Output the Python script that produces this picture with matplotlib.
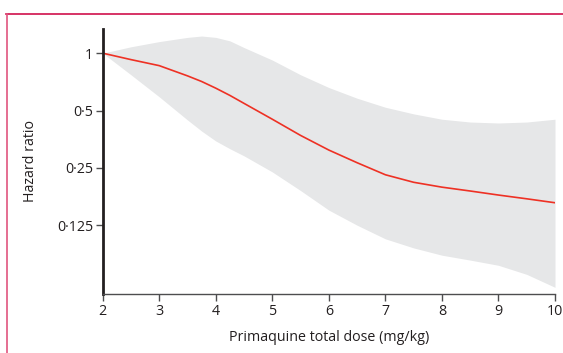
import matplotlib
matplotlib.use('Agg')
import matplotlib.pyplot as plt
from matplotlib.lines import Line2D

plt.rcParams['font.family'] = ['Open Sans', 'DejaVu Sans']

# primaquine total dose (mg/kg)
dose = [2, 2.5, 3, 3.5, 3.75, 4, 4.25, 4.5, 5, 5.5, 6, 6.5, 7, 7.5, 8, 8.5,
        9, 9.5, 10]
# hazard ratio estimate and 95% CI
hr = [1.0, 0.925, 0.86, 0.76, 0.71, 0.655, 0.60, 0.545, 0.45, 0.37, 0.31,
      0.266, 0.23, 0.21, 0.198, 0.189, 0.18, 0.172, 0.164]
hr_upper = [1.0, 1.08, 1.15, 1.21, 1.23, 1.21, 1.16, 1.07, 0.92, 0.77, 0.66,
            0.58, 0.52, 0.48, 0.45, 0.435, 0.43, 0.435, 0.45]
hr_lower = [1.0, 0.77, 0.59, 0.446, 0.39, 0.346, 0.315, 0.289, 0.238, 0.19,
            0.15, 0.125, 0.106, 0.095, 0.087, 0.082, 0.077, 0.069, 0.059]

y_ticks = [1, 0.5, 0.25, 0.125]
y_ticklabels = ['1', '0\u00b75', '0\u00b725', '0\u00b7125']
x_ticks = [2, 3, 4, 5, 6, 7, 8, 9, 10]

fig = plt.figure(figsize=(5.63, 3.53), dpi=100)
ax = fig.add_axes([0.1824, 0.167, 0.8034, 0.751])

ax.fill_between(dose, hr_lower, hr_upper, color='#e6e7e8', linewidth=0)
ax.plot(dose, hr, color='#ee3124', linewidth=1.2)

ax.set_yscale('log', base=2)
ax.set_ylim(0.0544, 1.34)
ax.set_xlim(2, 10)
ax.set_yticks(y_ticks)
ax.set_yticklabels(y_ticklabels)
ax.minorticks_off()
ax.set_xticks(x_ticks)

for s in ['top', 'right']:
    ax.spines[s].set_visible(False)
ax.spines['left'].set_linewidth(2.0)
ax.spines['left'].set_color('#231f20')
ax.spines['bottom'].set_linewidth(1.0)
ax.spines['bottom'].set_color('#4d4d4f')
ax.tick_params(axis='both', direction='out', length=5, width=1.0,
               color='#4d4d4f', labelsize=10.3, labelcolor='#231f20', pad=2)

ax.set_xlabel('Primaquine total dose (mg/kg)', fontsize=10.3, color='#231f20')
ax.set_ylabel('Hazard ratio', fontsize=10.3, color='#231f20')
ax.xaxis.set_label_coords(0.5, -0.135)
ax.yaxis.set_label_coords(-0.142, 0.5)

# red frame top and left
fig.add_artist(Line2D([6 / 563, 1.0], [1 - 14 / 353, 1 - 14 / 353],
                      color='#d0104c', linewidth=1.2, transform=fig.transFigure))
fig.add_artist(Line2D([6.5 / 563, 6.5 / 563], [0, 1 - 14 / 353],
                      color='#e0557f', linewidth=1.2, transform=fig.transFigure))

fig.savefig('out.png', dpi=100)
